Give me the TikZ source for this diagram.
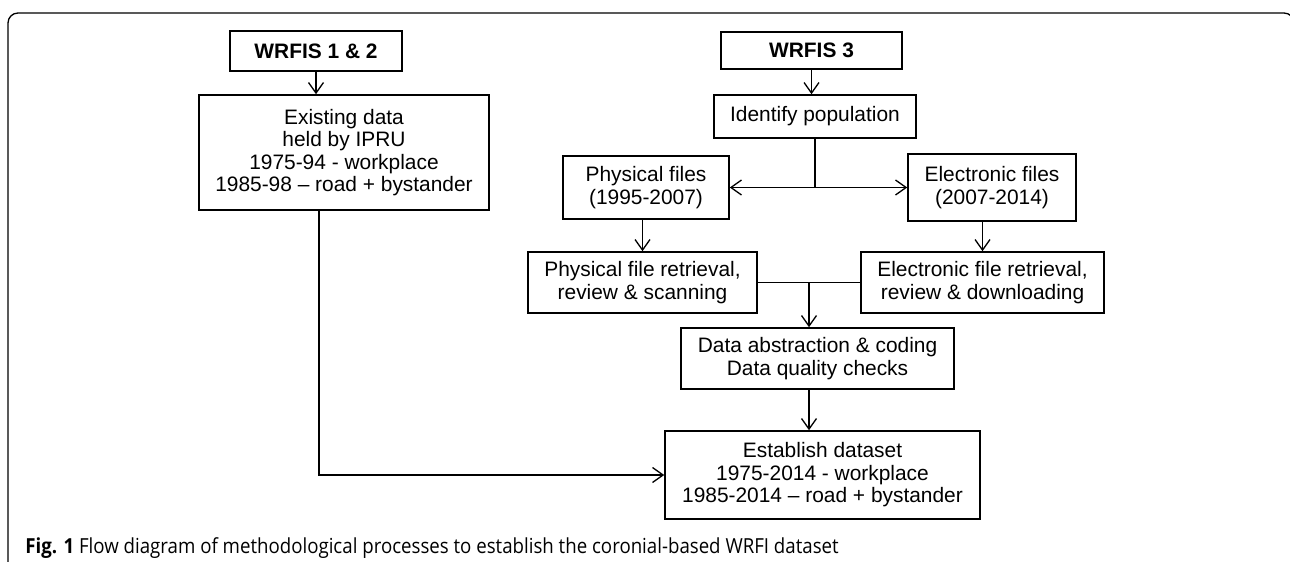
\documentclass[tikz,border=0pt]{standalone}
\usepackage{fontspec}
\setmainfont{Liberation Sans}
\newfontfamily\capfont[FakeStretch=0.9]{Open Sans}
\usepackage{tikz}
\usetikzlibrary{arrows.meta}

\newcommand{\pxu}{0.02cm}
\tikzset{
    box/.style 2 args={draw, line width=0.9pt, inner sep=0pt, align=center,
        minimum width=#1*\pxu, minimum height=#2*\pxu,
        font=\fontsize{11.9}{12.8}\selectfont},
    link/.style={line width=0.75pt},
}

\begin{document}
\begin{tikzpicture}[>={Straight Barb[length=6pt,width=8.5pt]},x=\pxu,y=-\pxu]
        \useasboundingbox (0,0) rectangle (1290,561);
        \draw[line width=0.75pt, rounded corners=0.2cm] (8,575) -- (8,13) -- (1294,13) -- (1294,575);

        \node[box={172}{40}] (w12) at (316,51) {\bfseries WRFIS 1 \& 2};
        \node[box={181}{37}] (w3) at (811.5,50.5) {\bfseries WRFIS 3};
        \node[box={202}{43}] (ident) at (815,116.5) {Identify population};
        \node[box={290}{115}] (exist) at (344,152.5) {Existing data\\held by IPRU\\1975-94 - workplace\\1985-98 – road + bystander};
        \node[box={166}{63}] (pfile) at (646,187.5) {Physical files\\(1995-2007)};
        \node[box={168}{67}] (efile) at (992,187.5) {Electronic files\\(2007-2014)};
        \node[box={229}{61}] (pret) at (642.5,282.5) {Physical file retrieval,\\review \& scanning};
        \node[box={243}{61}] (eret) at (982.5,282.5) {Electronic file retrieval,\\review \& downloading};
        \node[box={273}{61}] (abst) at (817.5,358.5) {Data abstraction \& coding\\Data quality checks};
        \node[box={315}{88}] (est) at (822.5,475) {Establish dataset\\1975-2014 - workplace\\1985-2014 – road + bystander};

        \node[anchor=base west, inner sep=0pt, font=\capfont\fontsize{11.8}{12.8}\selectfont] (cap) at (25,553)
            {\textbf{Fig. 1} Flow diagram of methodological processes to establish the coronial-based WRFI dataset};

        \draw[link,->] (w12.south) -- (w12.south |- exist.north);
        \draw[link,->] (w3.south) -- (w3.south |- ident.north);
        \draw[line width=1.4pt] (ident.south) -- (ident.south |- pfile.east);
        \draw[link,<->] (pfile.east) -- (efile.west);
        \draw[link,->] (pfile.south -| pret.north) -- (pret.north);
        \draw[link,->] (efile.south -| eret.north) -- (eret.north);
        \draw[link] (pret.east) -- coordinate (mrg) (eret.west);
        \draw[link,->] (mrg) -- (mrg |- abst.north);
        \draw[link,->] (mrg |- abst.south) -- (mrg |- est.north);
        \draw[link,->] ([xshift=-25*\pxu]exist.south) |- (est.west);

    \end{tikzpicture}
\end{document}
